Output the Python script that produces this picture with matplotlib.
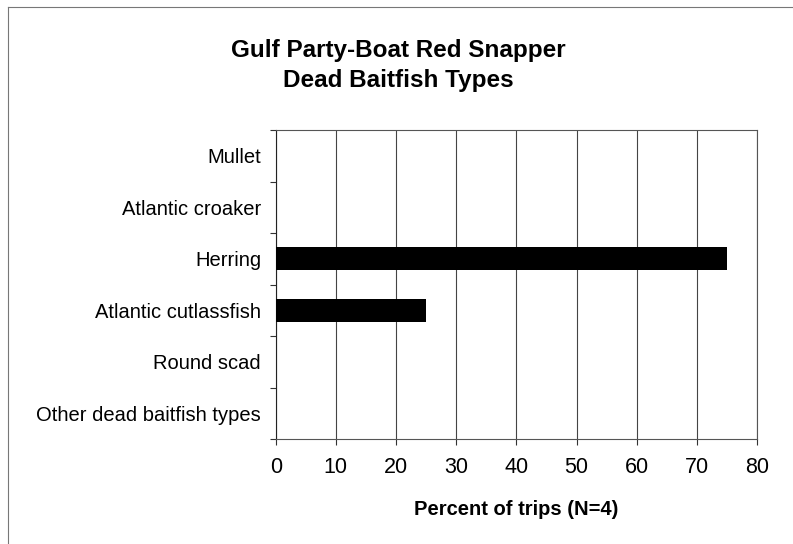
import matplotlib
matplotlib.use("Agg")
import matplotlib.pyplot as plt
from matplotlib.lines import Line2D
import numpy as np

categories = ["Mullet", "Atlantic croaker", "Herring", "Atlantic cutlassfish",
              "Round scad", "Other dead baitfish types"]
values = [0, 0, 75, 25, 0, 0]
xticks = [0, 10, 20, 30, 40, 50, 60, 70, 80]
title = "Gulf Party-Boat Red Snapper\nDead Baitfish Types"
xlabel = "Percent of trips (N=4)"

plt.rcParams['font.family'] = ['Liberation Sans', 'DejaVu Sans']

W, H = 793, 544
fig = plt.figure(figsize=(W / 100, H / 100), dpi=100)
left, right, top, bottom = 275.7, 757.0, 130.0, 439.0
ax = fig.add_axes([left / W, 1 - bottom / H, (right - left) / W, (bottom - top) / H])

n = len(categories)
y = np.arange(n)
ax.barh(y, values, height=0.45, color="black", zorder=3)
ax.set_ylim(n - 0.5, -0.5)
ax.set_xlim(0, 80)
ax.set_xticks(xticks)
ax.set_xticklabels([str(t) for t in xticks], fontsize=15.5)
ax.set_yticks(y)
ax.set_yticklabels(categories, fontsize=14.5)
ax.set_yticks(np.arange(-0.5, n, 1.0), minor=True)
ax.tick_params(axis="y", which="major", length=0, pad=10.5)
ax.tick_params(axis="y", which="minor", length=4, width=0.8, color="#333333")
ax.tick_params(axis="x", which="major", length=4, width=0.8, pad=9, color="#333333")
ax.grid(axis="x", color="#444444", linewidth=0.8, zorder=1)
for s in ax.spines.values():
    s.set_color("#555555")
    s.set_linewidth(0.8)
ax.spines["left"].set_color("#222222")
ax.set_xlabel(xlabel, fontsize=14.5, fontweight="bold", labelpad=15.5)

fig.text(398 / W, 1 - 65.5 / H, title, ha="center", va="center", fontsize=17.5,
         fontweight="bold", linespacing=1.38)

# figure frame lines (top and left)
fig.add_artist(Line2D([8 / W, 1.0], [1 - 7 / H, 1 - 7 / H], transform=fig.transFigure,
                      color="#777777", linewidth=0.8))
fig.add_artist(Line2D([8 / W, 8 / W], [0.0, 1 - 7 / H], transform=fig.transFigure,
                      color="#777777", linewidth=0.8))

fig.savefig("out.png", dpi=100)
